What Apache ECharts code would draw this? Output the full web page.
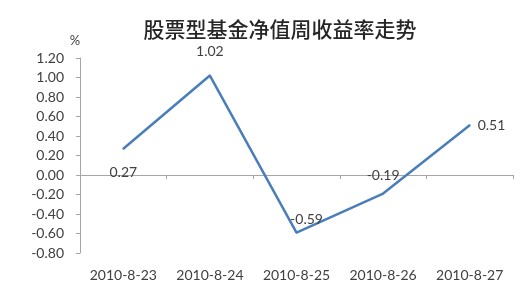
<!DOCTYPE html>
<html>
<head>
<meta charset="utf-8">
<script src="https://cdn.jsdelivr.net/npm/echarts@6/dist/echarts.min.js"></script>
<style>
  html, body { margin: 0; padding: 0; background: #fff; }
  #chart { width: 531px; height: 306px; }
</style>
</head>
<body>
<div id="chart"></div>
<script>
// 股票型基金净值周收益率 (%)
const dates = ['2010-8-23', '2010-8-24', '2010-8-25', '2010-8-26', '2010-8-27']
const weeklyReturn = [0.27, 1.02, -0.59, -0.19, 0.51]

const font = 'Lato, "Noto Sans", sans-serif'
const textColor = '#404040'
const lineColor = '#4a7ebb'

// where each value label sits, like the excel original
const pointLabels = [
  { position: 'bottom', distance: 16 },
  { position: 'top', distance: 16 },
  { position: 'top', distance: 5, offset: [10, 0] },
  { position: 'top', distance: 10 },
  { position: 'right', distance: 7 }
]

const chart = echarts.init(document.getElementById('chart'), null, { renderer: 'canvas' })

chart.setOption({
  backgroundColor: '#fff',
  animation: false,
  title: {
    text: '股票型基金净值周收益率走势',
    left: 275,
    textAlign: 'center',
    top: 14,
    textStyle: {
      color: '#262626',
      fontSize: 21,
      fontWeight: 500,
      fontFamily: '"Noto Sans CJK SC", sans-serif'
    }
  },
  grid: {
    left: 80,
    right: 18,
    top: 58,
    bottom: 53
  },
  xAxis: [{
    // labels along the bottom
    type: 'category',
    data: dates,
    position: 'bottom',
    axisLine: { show: false, onZero: false },
    axisTick: { show: false },
    axisLabel: {
      interval: 0,
      hideOverlap: false,
      color: textColor,
      fontSize: 14,
      fontFamily: font,
      margin: 15
    }
  }, {
    // the zero line with its ticks
    type: 'category',
    data: dates,
    position: 'bottom',
    axisLine: { show: true, onZero: true, lineStyle: { color: '#a6a6a6', width: 1 } },
    axisTick: { show: true, inside: false, length: 4, interval: 0, lineStyle: { color: '#a6a6a6' } },
    axisLabel: { show: false }
  }],
  yAxis: {
    type: 'value',
    min: -0.8,
    max: 1.2,
    interval: 0.2,
    name: '%',
    nameLocation: 'end',
    nameGap: 11,
    nameTextStyle: { color: textColor, fontSize: 13, fontFamily: font, padding: [0, 10, 0, 0] },
    axisLine: { show: true, lineStyle: { color: '#a6a6a6' } },
    axisTick: { show: true, length: 4, lineStyle: { color: '#a6a6a6' } },
    splitLine: { show: false },
    axisLabel: {
      color: textColor,
      fontSize: 14,
      fontFamily: font,
      margin: 16,
      formatter: v => v.toFixed(2)
    }
  },
  series: [{
    type: 'line',
    data: weeklyReturn.map((v, i) => ({
      value: v,
      label: pointLabels[i]
    })),
    showSymbol: true,
    symbol: 'circle',
    symbolSize: 2,
    itemStyle: { color: lineColor },
    lineStyle: { color: lineColor, width: 2.5 },
    label: {
      show: true,
      color: textColor,
      fontSize: 14,
      fontFamily: font,
      formatter: p => p.value.toFixed(2)
    }
  }]
})
</script>
</body>
</html>
